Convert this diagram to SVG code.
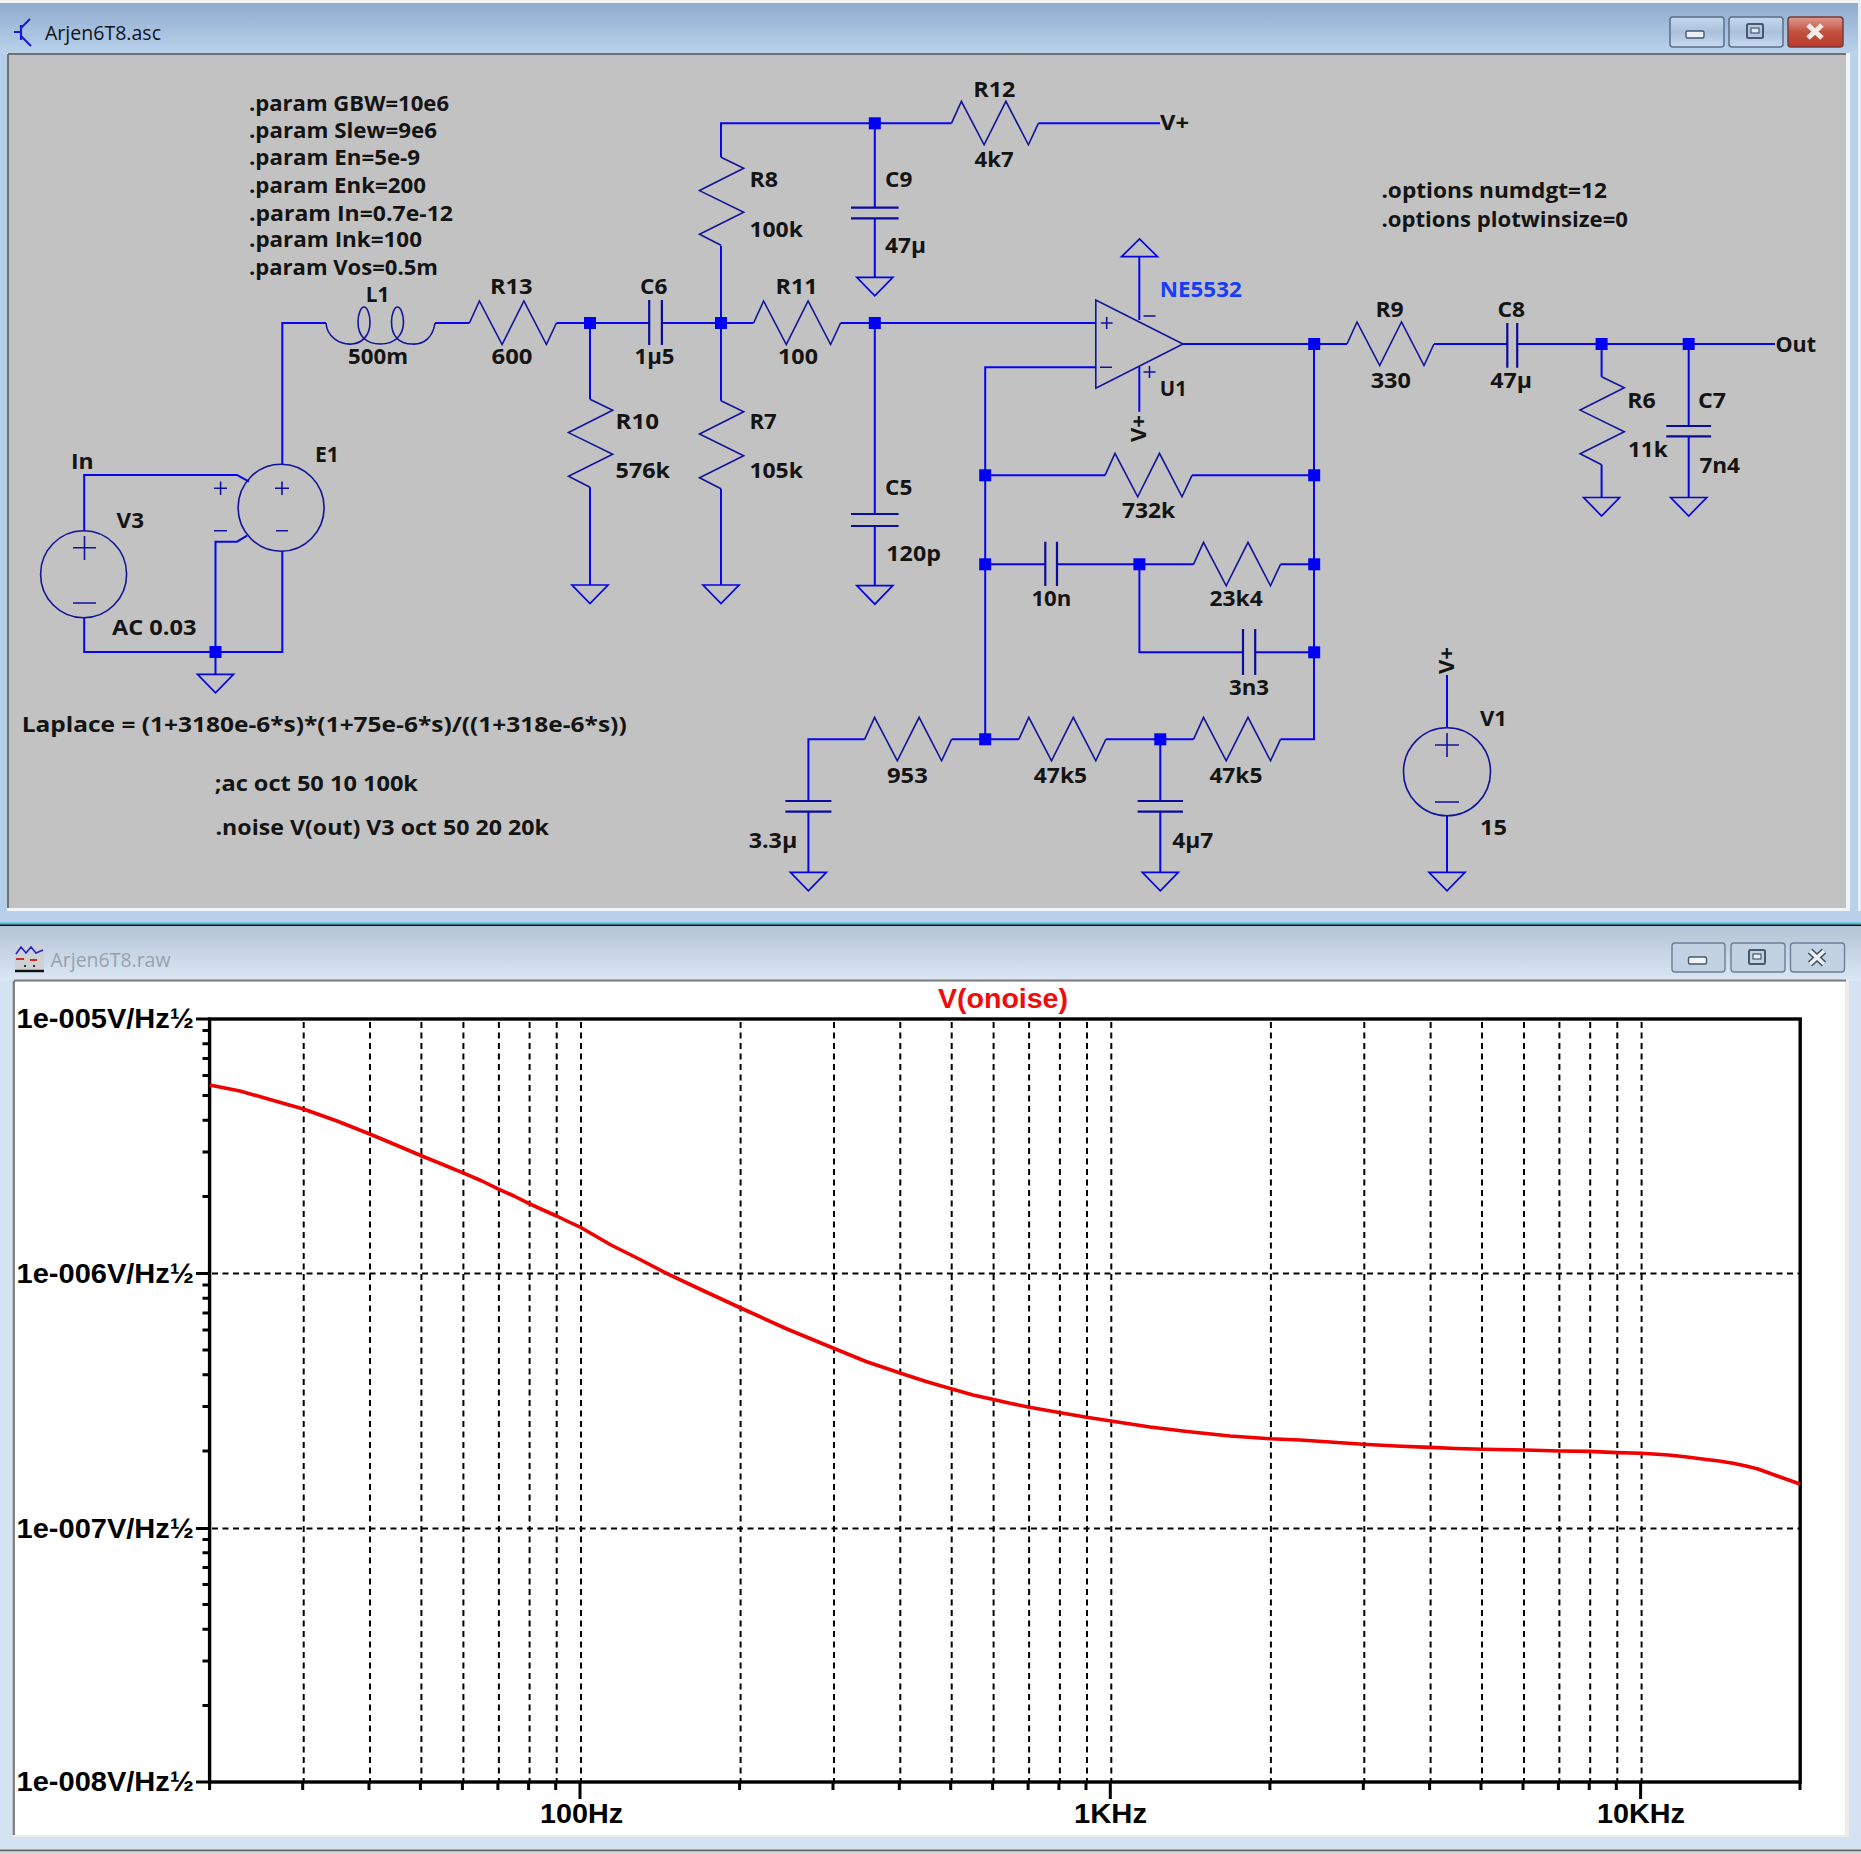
<svg xmlns="http://www.w3.org/2000/svg" width="1861" height="1854" viewBox="0 0 1861 1854">
<style>
.w{fill:none;stroke:#0505ee;stroke-width:2}
.g{fill:none;stroke:#0505e0;stroke-width:1.7}
.c{fill:none;stroke:#12129a;stroke-width:1.6}
.p{fill:none;stroke:#0c0c9c;stroke-width:2.2}
.j{fill:#0000f4}
.t{font-family:"Open Sans","Noto Sans","DejaVu Sans",sans-serif;font-weight:700;font-size:21.5px;fill:#141414}
.a{font-family:"Liberation Sans",Arial,sans-serif;font-weight:700;font-size:28px;fill:#000}
.bt{stroke:#5c6f88;stroke-width:1.5}
</style>
<defs>
<linearGradient id="ga" x1="0" y1="0" x2="0" y2="1"><stop offset="0" stop-color="#8fabcd"/><stop offset="1" stop-color="#bad2ec"/></linearGradient>
<linearGradient id="gi" x1="0" y1="0" x2="0" y2="1"><stop offset="0" stop-color="#b4c4d6"/><stop offset="1" stop-color="#dbe7f4"/></linearGradient>
<linearGradient id="gb" x1="0" y1="0" x2="0" y2="1"><stop offset="0" stop-color="#c6d8ee"/><stop offset="0.5" stop-color="#a9c0dc"/><stop offset="1" stop-color="#c8daf0"/></linearGradient>
<linearGradient id="gr" x1="0" y1="0" x2="0" y2="1"><stop offset="0" stop-color="#dd9a90"/><stop offset="0.5" stop-color="#c4503e"/><stop offset="1" stop-color="#b83a2a"/></linearGradient>
<path id="rh" class="c" d="M0,0 L10,-22 L32.7,21.5 L54.5,-22 L77,21.5 L87,0"/>
<path id="rv" class="c" d="M0,0 L22.7,11 L-21.5,33.3 L22.7,55 L-21.5,77 L0,88"/>
<path id="gnd" class="g" d="M-18,0 H18 L0,18.5 Z"/>
<path id="node" class="j" d="M-6,-6 H6 V6 H-6 Z"/>
</defs>

<g id="windows">
<rect width="1861" height="1854" fill="#b8d0ea"/>
<rect x="0" y="0" width="1861" height="3" fill="#f4f4f4"/>
<rect x="0" y="3" width="1858" height="51" fill="url(#ga)"/>
<rect x="0" y="54" width="8" height="870" fill="#b6cfe9"/>
<rect x="1850" y="54" width="8" height="870" fill="#b8d2ec"/>
<rect x="1858" y="0" width="3" height="926" fill="#e8eef4"/>
<rect x="7" y="53" width="1843" height="858" fill="#f2f5f8"/>
<rect x="8" y="55" width="1838" height="853" fill="#c2c2c2"/>
<path d="M8,54 H1846 M8,54 V908" fill="none" stroke="#707070" stroke-width="2"/>
<rect x="0" y="911" width="1861" height="12" fill="#b8d0ea"/>
<rect x="0" y="922.5" width="1861" height="2" fill="#2cc6de"/>
<rect x="0" y="924.5" width="1861" height="2" fill="#101010"/>

<rect x="0" y="926" width="1861" height="55" fill="url(#gi)"/>
<rect x="0" y="981" width="14" height="869" fill="#d4e2f2"/>
<rect x="1846" y="981" width="15" height="869" fill="#d4e2f2"/>
<rect x="0" y="1835" width="1861" height="15" fill="#d4e2f2"/>
<rect x="13" y="980" width="1836" height="857" fill="#ececec"/>
<rect x="14" y="982" width="1831" height="853" fill="#fff"/>
<path d="M14,980.5 H1846 M13.8,981 V1835" fill="none" stroke="#7c7c7c" stroke-width="2.2"/>
<rect x="0" y="1849.5" width="1861" height="2" fill="#6a6a62"/>
<rect x="0" y="1851.5" width="1861" height="2.5" fill="#d8d8d4"/>
</g>

<g id="title-top">
<g fill="none" stroke="#1818d8" stroke-width="2.2">
<path d="M14,32 H21 M21,25 V40"/>
<path d="M21,28 L30,19 M21,36 L31,46" stroke-width="2"/>
</g>
<text x="45" y="40" font-family="'Open Sans','Noto Sans',sans-serif" font-size="20" fill="#10141c" textLength="116" lengthAdjust="spacingAndGlyphs">Arjen6T8.asc</text>
<rect x="1670" y="17" width="54" height="30" rx="3" fill="url(#gb)" class="bt"/>
<rect x="1729" y="17" width="54" height="30" rx="3" fill="url(#gb)" class="bt"/>
<rect x="1788" y="17" width="55" height="30" rx="3" fill="url(#gr)" stroke="#7a3a34" stroke-width="1.5"/>
<rect x="1686" y="31" width="18" height="7" rx="1.5" fill="#e8eef4" stroke="#46586e" stroke-width="1.4"/>
<rect x="1747" y="24" width="16" height="14" rx="1.5" fill="none" stroke="#46586e" stroke-width="2"/>
<rect x="1751" y="28" width="8" height="5" fill="#dfe8f2" stroke="#46586e" stroke-width="1.2"/>
<path d="M1808,25 L1822,38 M1822,25 L1808,38" stroke="#f2ece8" stroke-width="5" fill="none"/>
</g>

<g id="title-bottom">
<rect x="15" y="946" width="29" height="26" fill="#cdd1d4"/>
<path d="M16,954 L21,947 L26,953 L31,947 L36,953 L43,950" fill="none" stroke="#2222cc" stroke-width="1.6"/>
<path d="M16,959 H24 M30,960 H37" stroke="#cc2a2a" stroke-width="1.8"/>
<path d="M24,966 H26 M33,966 H35" stroke="#333" stroke-width="1.8"/>
<path d="M15,971 H44" stroke="#111" stroke-width="2.4"/>
<text x="50.5" y="967" font-family="'Open Sans','Noto Sans',sans-serif" font-size="20" fill="#98a2ae" textLength="120" lengthAdjust="spacingAndGlyphs">Arjen6T8.raw</text>
<rect x="1672" y="943" width="53" height="29" rx="3" fill="#c3d2e3" stroke="#6d7f96" stroke-width="1.4"/>
<rect x="1731" y="943" width="54" height="29" rx="3" fill="#c3d2e3" stroke="#6d7f96" stroke-width="1.4"/>
<rect x="1790.5" y="943" width="54" height="29" rx="3" fill="#c3d2e3" stroke="#6d7f96" stroke-width="1.4"/>
<rect x="1688.5" y="957" width="18" height="7" rx="1.5" fill="#f2f5f8" stroke="#46586e" stroke-width="1.4"/>
<rect x="1749" y="950" width="16" height="14" rx="1.5" fill="none" stroke="#46586e" stroke-width="2"/>
<rect x="1753" y="954" width="8" height="5" fill="#e6edf4" stroke="#46586e" stroke-width="1.2"/>
<path d="M1810,951 L1824,964 M1824,951 L1810,964" stroke="#46586e" stroke-width="6.5" fill="none"/>
<path d="M1810,951 L1824,964 M1824,951 L1810,964" stroke="#eef2f6" stroke-width="3.6" fill="none"/>
</g>

<g id="connectors">
<path class="w" d="M282.3,464.3 V323 H326 M435,323 H469.4 M556.4,323 H649 M662,323 H753.6 M840.6,323 H1096"/>
<path class="w" d="M590,323 V399.3 M590,487.3 V585"/>
<path class="w" d="M721,323 V245.7 M721,157.3 V123.3 H951.4 M1038.4,123.3 H1160"/>
<path class="w" d="M721,323 V400.7 M721,488.7 V585"/>
<path class="w" d="M874.8,123.3 V207.7 M874.8,218.3 V277.3"/>
<path class="w" d="M874.8,323 V514 M874.8,526 V585.7"/>
<path class="w" d="M1096,367.3 H985.2 V739.3 M985.2,475.3 H1105 M1192,475.3 H1314"/>
<path class="w" d="M985.2,564.3 H1045.3 M1057,564.3 H1193.5 M1280.5,564.3 H1314"/>
<path class="w" d="M1139.4,564.3 V652.3 H1243 M1255.2,652.3 H1314"/>
<path class="w" d="M808.4,801 V739.3 H864.6 M951.6,739.3 H1018.8 M1105.8,739.3 H1193.5 M1280.5,739.3 H1314 V344"/>
<path class="w" d="M1160.3,739.3 V801 M1160.3,811.7 V872.3 M808.4,811.7 V872.3"/>
<path class="w" d="M1183,344 H1347 M1434,344 H1507.3 M1517.2,344 H1775"/>
<path class="w" d="M1601.6,344 V376.8 M1601.6,464.8 V497.5 M1688.7,344 V426 M1688.7,436.4 V497.5"/>
<path class="w" d="M1139.3,320 V256.7 M1139.3,366.7 V411.7"/>
<path class="w" d="M1447,675 V727.6 M1447,815.8 V872.3"/>
<path class="w" d="M84.2,530.7 V475 H237 L249,481.7 M84.2,617.7 V652 H282.3 V551"/>
<path class="w" d="M247,535.7 L237,541.7 H215.5 V674.3"/>
</g>

<g id="V3"><ellipse cx="83.6" cy="574.2" rx="43" ry="43.5" class="c"/><path class="c" d="M73,547.7 H96 M84.5,536 V560 M73,603 H96"/>
<text class="t" x="116.6" y="528.3" textLength="27.4" lengthAdjust="spacingAndGlyphs">V3</text>
<text class="t" x="112" y="635" textLength="84.5" lengthAdjust="spacingAndGlyphs">AC 0.03</text></g>
<g id="In"><text class="t" x="71" y="469" textLength="22.7" lengthAdjust="spacingAndGlyphs">In</text></g>
<g id="E1"><ellipse cx="281.1" cy="507.7" rx="43" ry="43.5" class="c"/><path class="c" d="M275,488.3 H289 M282,481.5 V495 M276,530.7 H288 M214,488.3 H227 M220.6,481.5 V495 M214,530.7 H227"/>
<text class="t" x="315" y="462.3" textLength="24" lengthAdjust="spacingAndGlyphs">E1</text></g>

<g id="L1"><path class="c" d="M326,323 C327,337 340,345 352,344 C362,343 370,336 370,322 C370,314 367,307 364,307 C361,307 358,314 358,322 C358,336 366,344 380.5,344 C394,344 403.5,336 403.5,322 C403.5,314 400.5,307 397.5,307 C394.5,307 391.5,314 391.5,322 C391.5,336 399,344 412,344 C424,345 433,337 435,323"/>
<text class="t" x="365.8" y="301.7" textLength="23.7" lengthAdjust="spacingAndGlyphs">L1</text>
<text class="t" x="348" y="364" textLength="60" lengthAdjust="spacingAndGlyphs">500m</text></g>
<g id="R13"><use href="#rh" x="469.4" y="323"/>
<text class="t" x="490" y="294.3" textLength="42.6" lengthAdjust="spacingAndGlyphs">R13</text>
<text class="t" x="491.5" y="364" textLength="41" lengthAdjust="spacingAndGlyphs">600</text></g>
<g id="R10"><use href="#rv" x="590" y="399.3"/>
<text class="t" x="615.6" y="429" textLength="43.4" lengthAdjust="spacingAndGlyphs">R10</text>
<text class="t" x="615.6" y="477.7" textLength="54.4" lengthAdjust="spacingAndGlyphs">576k</text></g>
<g id="C6"><path class="p" d="M649.2,300 V345 M661.9,300 V345"/>
<text class="t" x="640" y="294.3" textLength="27.3" lengthAdjust="spacingAndGlyphs">C6</text>
<text class="t" x="634.5" y="364.3" textLength="40" lengthAdjust="spacingAndGlyphs">1µ5</text></g>
<g id="R8"><use href="#rv" x="721" y="157.3"/>
<text class="t" x="749.4" y="187.3" textLength="28.6" lengthAdjust="spacingAndGlyphs">R8</text>
<text class="t" x="749.4" y="236.7" textLength="53.5" lengthAdjust="spacingAndGlyphs">100k</text></g>
<g id="R7"><use href="#rv" x="721" y="400.7"/>
<text class="t" x="749.4" y="429" textLength="27.4" lengthAdjust="spacingAndGlyphs">R7</text>
<text class="t" x="749.4" y="477.7" textLength="53.5" lengthAdjust="spacingAndGlyphs">105k</text></g>
<g id="R11"><use href="#rh" x="753.6" y="323"/>
<text class="t" x="775.5" y="294.3" textLength="42.1" lengthAdjust="spacingAndGlyphs">R11</text>
<text class="t" x="778" y="364.3" textLength="40" lengthAdjust="spacingAndGlyphs">100</text></g>
<g id="R12"><use href="#rh" x="951.4" y="123.3"/>
<text class="t" x="973.3" y="96.7" textLength="42.1" lengthAdjust="spacingAndGlyphs">R12</text>
<text class="t" x="974.6" y="166.7" textLength="39.1" lengthAdjust="spacingAndGlyphs">4k7</text></g>
<g id="Vplus-top"><text class="t" x="1160" y="130" textLength="29" lengthAdjust="spacingAndGlyphs">V+</text></g>
<g id="C9"><path class="p" d="M851,207.7 H898.6 M851,218.3 H898.6"/>
<text class="t" x="885" y="187.3" textLength="27.3" lengthAdjust="spacingAndGlyphs">C9</text>
<text class="t" x="885" y="253.3" textLength="41" lengthAdjust="spacingAndGlyphs">47µ</text></g>
<g id="C5"><path class="p" d="M851,514 H898.6 M851,526 H898.6"/>
<text class="t" x="885" y="495" textLength="27.3" lengthAdjust="spacingAndGlyphs">C5</text>
<text class="t" x="886.3" y="560.7" textLength="54.6" lengthAdjust="spacingAndGlyphs">120p</text></g>

<g id="U1"><path class="c" d="M1095.8,300 V388.3 L1183,344 Z"/>
<path class="c" d="M1100.8,323 H1112.6 M1106.7,317 V329 M1100,367.3 H1112 M1143.5,316 H1155.5 M1143.5,372 H1155.5 M1149.5,366 V378"/>
<text class="t" x="1159.8" y="297.3" textLength="82" lengthAdjust="spacingAndGlyphs" style="fill:#1a3cf6">NE5532</text>
<text class="t" x="1159.8" y="395.7" textLength="27" lengthAdjust="spacingAndGlyphs">U1</text></g>
<g id="Vee-U1"><path class="g" d="M1121.5,256.7 H1157.5 L1139.5,239 Z"/></g>
<g id="Vplus-U1"><text class="t" transform="translate(1146,442) rotate(-90)" textLength="27" lengthAdjust="spacingAndGlyphs">V+</text></g>

<g id="R732k"><use href="#rh" x="1105" y="475.3"/>
<text class="t" x="1121.9" y="518.3" textLength="53.4" lengthAdjust="spacingAndGlyphs">732k</text></g>
<g id="C10n"><path class="p" d="M1045.3,541.7 V586 M1057,541.7 V586"/>
<text class="t" x="1031.4" y="606" textLength="40" lengthAdjust="spacingAndGlyphs">10n</text></g>
<g id="R23k4"><use href="#rh" x="1193.5" y="564.3"/>
<text class="t" x="1209.4" y="606" textLength="53.3" lengthAdjust="spacingAndGlyphs">23k4</text></g>
<g id="C3n3"><path class="p" d="M1243,629 V675 M1255.2,629 V675"/>
<text class="t" x="1229" y="695" textLength="40" lengthAdjust="spacingAndGlyphs">3n3</text></g>
<g id="R953"><use href="#rh" x="864.6" y="739.3"/>
<text class="t" x="887" y="782.7" textLength="40.8" lengthAdjust="spacingAndGlyphs">953</text></g>
<g id="R47k5a"><use href="#rh" x="1018.8" y="739.3"/>
<text class="t" x="1033.8" y="782.7" textLength="53.4" lengthAdjust="spacingAndGlyphs">47k5</text></g>
<g id="R47k5b"><use href="#rh" x="1193.5" y="739.3"/>
<text class="t" x="1209.4" y="782.7" textLength="53" lengthAdjust="spacingAndGlyphs">47k5</text></g>
<g id="C3u3"><path class="p" d="M785.4,801 H831.4 M785.4,811.7 H831.4"/>
<text class="t" x="748.7" y="847.7" textLength="48.6" lengthAdjust="spacingAndGlyphs">3.3µ</text></g>
<g id="C4u7"><path class="p" d="M1137.6,801 H1183 M1137.6,811.7 H1183"/>
<text class="t" x="1172.2" y="847.7" textLength="41" lengthAdjust="spacingAndGlyphs">4µ7</text></g>

<g id="R9"><use href="#rh" x="1347" y="344"/>
<text class="t" x="1375.4" y="317" textLength="28.2" lengthAdjust="spacingAndGlyphs">R9</text>
<text class="t" x="1370.7" y="387.5" textLength="40.3" lengthAdjust="spacingAndGlyphs">330</text></g>
<g id="C8"><path class="p" d="M1507.3,323 V367.8 M1517.2,323 V367.8"/>
<text class="t" x="1497.4" y="317" textLength="27.6" lengthAdjust="spacingAndGlyphs">C8</text>
<text class="t" x="1490.3" y="387.5" textLength="41.7" lengthAdjust="spacingAndGlyphs">47µ</text></g>
<g id="R6"><use href="#rv" x="1601.6" y="376.8"/>
<text class="t" x="1627.3" y="408" textLength="28.5" lengthAdjust="spacingAndGlyphs">R6</text>
<text class="t" x="1628" y="457" textLength="39.7" lengthAdjust="spacingAndGlyphs">11k</text></g>
<g id="C7"><path class="p" d="M1666.3,426 H1711.1 M1666.3,436.4 H1711.1"/>
<text class="t" x="1698" y="408" textLength="28" lengthAdjust="spacingAndGlyphs">C7</text>
<text class="t" x="1699.4" y="472.5" textLength="40.6" lengthAdjust="spacingAndGlyphs">7n4</text></g>
<g id="Out"><text class="t" x="1775.4" y="351.8" textLength="40.6" lengthAdjust="spacingAndGlyphs">Out</text></g>

<g id="V1"><ellipse cx="1447" cy="771.7" rx="43.5" ry="44" class="c"/><path class="c" d="M1435,745 H1459 M1447,733 V757 M1435,802 H1459"/>
<text class="t" x="1480" y="726" textLength="27" lengthAdjust="spacingAndGlyphs">V1</text>
<text class="t" x="1480" y="835" textLength="27" lengthAdjust="spacingAndGlyphs">15</text></g>
<g id="Vplus-V1"><text class="t" transform="translate(1454,674) rotate(-90)" textLength="27" lengthAdjust="spacingAndGlyphs">V+</text></g>

<g id="grounds">
<use href="#gnd" x="215.5" y="674.3"/>
<use href="#gnd" x="590" y="585"/>
<use href="#gnd" x="721" y="585"/>
<use href="#gnd" x="874.8" y="277.3"/>
<use href="#gnd" x="874.8" y="585.7"/>
<use href="#gnd" x="808.4" y="872.3"/>
<use href="#gnd" x="1160.3" y="872.3"/>
<use href="#gnd" x="1447" y="872.3"/>
<use href="#gnd" x="1601.6" y="497.5"/>
<use href="#gnd" x="1688.7" y="497.5"/>
</g>

<g id="junctions">
<use href="#node" x="215.5" y="652"/>
<use href="#node" x="590" y="323"/>
<use href="#node" x="721" y="323"/>
<use href="#node" x="874.8" y="323"/>
<use href="#node" x="874.8" y="123.3"/>
<use href="#node" x="985.2" y="475.3"/>
<use href="#node" x="985.2" y="564.3"/>
<use href="#node" x="985.2" y="739.3"/>
<use href="#node" x="1139.4" y="564.3"/>
<use href="#node" x="1160.3" y="739.3"/>
<use href="#node" x="1314.2" y="344"/>
<use href="#node" x="1314.2" y="475.3"/>
<use href="#node" x="1314.2" y="564.3"/>
<use href="#node" x="1314.2" y="652.3"/>
<use href="#node" x="1601.6" y="344"/>
<use href="#node" x="1688.7" y="344"/>
</g>

<g id="directives">
<text class="t" x="249" y="110.7" textLength="200" lengthAdjust="spacingAndGlyphs">.param GBW=10e6</text>
<text class="t" x="249" y="138.3" textLength="188" lengthAdjust="spacingAndGlyphs">.param Slew=9e6</text>
<text class="t" x="249" y="165" textLength="171" lengthAdjust="spacingAndGlyphs">.param En=5e-9</text>
<text class="t" x="249" y="192.7" textLength="177" lengthAdjust="spacingAndGlyphs">.param Enk=200</text>
<text class="t" x="249" y="220.7" textLength="204" lengthAdjust="spacingAndGlyphs">.param In=0.7e-12</text>
<text class="t" x="249" y="247.3" textLength="173" lengthAdjust="spacingAndGlyphs">.param Ink=100</text>
<text class="t" x="249" y="275" textLength="189" lengthAdjust="spacingAndGlyphs">.param Vos=0.5m</text>
<text class="t" x="1381.4" y="198.2" textLength="225.6" lengthAdjust="spacingAndGlyphs">.options numdgt=12</text>
<text class="t" x="1381.4" y="226.8" textLength="246.6" lengthAdjust="spacingAndGlyphs">.options plotwinsize=0</text>
<text class="t" x="21.7" y="731.7" textLength="605" lengthAdjust="spacingAndGlyphs">Laplace = (1+3180e-6*s)*(1+75e-6*s)/((1+318e-6*s))</text>
<text class="t" x="214.7" y="790.7" textLength="203.3" lengthAdjust="spacingAndGlyphs">;ac oct 50 10 100k</text>
<text class="t" x="215.5" y="835" textLength="333.3" lengthAdjust="spacingAndGlyphs">.noise V(out) V3 oct 50 20 20k</text>
</g>

<g id="plot">
<g fill="none" stroke="#000" stroke-width="2" stroke-dasharray="6 4.5">
<path d="M303.7,1022V1782M370,1022V1782M421.4,1022V1782M463.4,1022V1782M498.9,1022V1782M529.6,1022V1782M556.7,1022V1782M581,1022V1782M740.6,1022V1782M834,1022V1782M900.3,1022V1782M951.7,1022V1782M993.6,1022V1782M1029.1,1022V1782M1059.9,1022V1782M1087,1022V1782M1111.3,1022V1782M1270.9,1022V1782M1364.3,1022V1782M1430.6,1022V1782M1482,1022V1782M1524,1022V1782M1559.4,1022V1782M1590.2,1022V1782M1617.3,1022V1782M1641.6,1022V1782"/>
<path d="M212,1273.5H1799M212,1528.5H1799"/>
</g>
<rect x="209.6" y="1019" width="1590.6" height="763" fill="none" stroke="#000" stroke-width="3.4"/>
<path fill="none" stroke="#000" stroke-width="3" d="M202.5,1030.6H210M202.5,1043.7H210M202.5,1058.4H210M202.5,1075.5H210M202.5,1095.6H210M202.5,1120.3H210M202.5,1152H210M202.5,1196.6H210M202.5,1285.1H210M202.5,1298.2H210M202.5,1312.9H210M202.5,1330H210M202.5,1350.1H210M202.5,1374.8H210M202.5,1406.5H210M202.5,1451.1H210M202.5,1539.6H210M202.5,1552.7H210M202.5,1567.4H210M202.5,1584.5H210M202.5,1604.6H210M202.5,1629.3H210M202.5,1661H210M202.5,1705.6H210M196,1019H210M196,1273.5H210M196,1528.5H210M196,1782H210"/>
<path fill="none" stroke="#000" stroke-width="3" d="M209.6,1782V1790M302.7,1782V1790M369,1782V1790M420.4,1782V1790M462.4,1782V1790M497.9,1782V1790M528.6,1782V1790M555.7,1782V1790M580,1782V1799M739.6,1782V1790M833,1782V1790M899.3,1782V1790M950.7,1782V1790M992.6,1782V1790M1028.1,1782V1790M1058.9,1782V1790M1086,1782V1790M1110.3,1782V1799M1269.9,1782V1790M1363.3,1782V1790M1429.6,1782V1790M1481,1782V1790M1523,1782V1790M1558.4,1782V1790M1589.2,1782V1790M1616.3,1782V1790M1640.6,1782V1799M1800,1782V1790"/>
<polyline fill="none" stroke="#f00000" stroke-width="3.6" stroke-linejoin="round" points="209.6,1085 240,1091 270,1099.5 303.3,1109 337,1121 369.7,1134 396,1145 421.9,1156 444,1165 464.2,1173.3 482,1181 499,1189.3 514,1196 528.7,1203.3 543,1210 556.7,1216 569,1222 581.3,1227.7 611,1245 640,1259.5 667,1273.6 704,1291 740.7,1308 787,1329 833,1348 866,1361.5 900,1373 926,1381.5 952,1389 973,1395 993.5,1399.5 1011,1403.5 1028,1407 1059,1412.5 1085,1417 1111,1421 1150,1427 1187,1431.5 1230,1436 1270,1438.7 1300,1440 1330,1442 1363,1444.2 1396,1446 1430,1447.4 1456,1448.5 1482.5,1449.3 1524.7,1450 1559.4,1451 1589,1451.4 1617,1452.6 1641.7,1453.3 1668.5,1455 1687,1457 1704.3,1459.3 1719,1461 1733,1463.3 1746,1466 1758,1469 1769,1473 1779.4,1476.7 1790,1480.5 1800,1484"/>
<text class="a" x="938" y="1008" textLength="130" lengthAdjust="spacingAndGlyphs" style="fill:#ee0c0c">V(onoise)</text>
<text class="a" x="16.6" y="1028" textLength="177.4" lengthAdjust="spacingAndGlyphs">1e-005V/Hz½</text>
<text class="a" x="16.6" y="1283" textLength="177.4" lengthAdjust="spacingAndGlyphs">1e-006V/Hz½</text>
<text class="a" x="16.6" y="1538" textLength="177.4" lengthAdjust="spacingAndGlyphs">1e-007V/Hz½</text>
<text class="a" x="16.6" y="1791" textLength="177.4" lengthAdjust="spacingAndGlyphs">1e-008V/Hz½</text>
<text class="a" x="540" y="1823" textLength="83" lengthAdjust="spacingAndGlyphs">100Hz</text>
<text class="a" x="1074" y="1823" textLength="73" lengthAdjust="spacingAndGlyphs">1KHz</text>
<text class="a" x="1597" y="1823" textLength="88" lengthAdjust="spacingAndGlyphs">10KHz</text>
</g>
</svg>
